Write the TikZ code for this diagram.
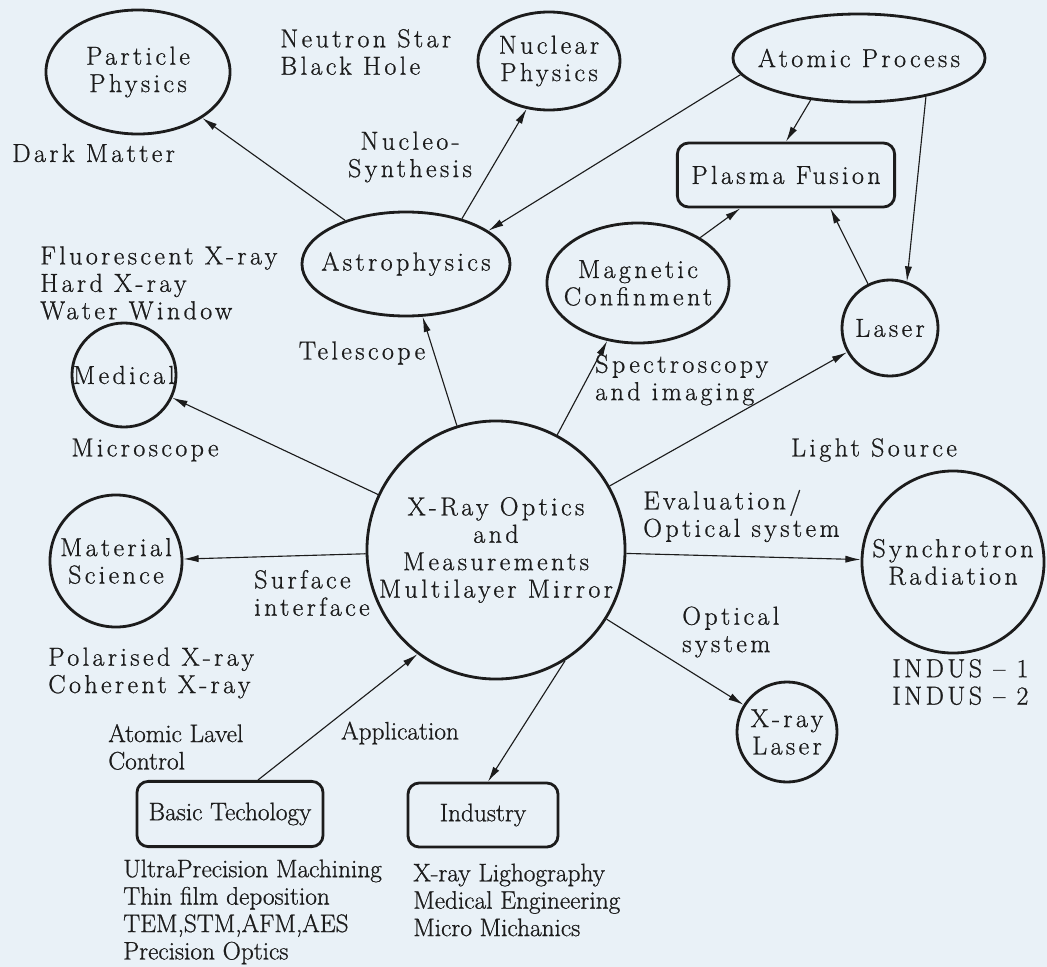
\documentclass[tikz,border=0pt]{standalone}
\usepackage{fontspec}
\setmainfont{Latin Modern Roman}[LetterSpace=13, FakeBold=0.8]
\newfontfamily\plainfont{Latin Modern Roman}[FakeBold=0.8]
\usetikzlibrary{shapes.geometric,arrows.meta}
\definecolor{paper}{HTML}{E9F1F7}
\definecolor{ink}{HTML}{1C1C1C}
\tikzset{
  oval/.style={draw=ink, ellipse, line width=2pt, inner sep=0pt},
  ring/.style={draw=ink, circle, line width=2pt, inner sep=0pt},
  slab/.style={draw=ink, rectangle, rounded corners=8pt, line width=2pt, inner sep=0pt},
  txt/.style={align=center, text=ink, inner sep=0pt},
  plain/.style={font=\plainfont\fontsize{18}{19.5}\selectfont},
  note/.style={align=left, text=ink, inner sep=0pt, anchor=west},
  plainnote/.style={note, plain},
  link/.style={draw=ink, line width=0.8pt, -{Latex[length=3.8mm,width=1.8mm]}},
}

\begin{document}
\begin{tikzpicture}[x=0.025cm, y=-0.025cm, font=\fontsize{18.5}{19.5}\selectfont]
    \fill[paper] (0,0) rectangle (1047,967);
    \useasboundingbox (0,0) rectangle (1047,967);

    % shapes
    \node[oval, minimum width=4.6cm, minimum height=3.1cm, label={[txt]center:Particle\\Physics}] (pp) at (138,72) {};
    \node[oval, minimum width=3.55cm, minimum height=2.45cm, label={[txt]center:Nuclear\\Physics}] (nuc) at (549,61) {};
    \node[oval, minimum width=6.3cm, minimum height=2.2cm, label={[txt]center:Atomic Process}] (atomic) at (859,58) {};
    \node[slab, minimum width=5.43cm, minimum height=1.6cm, label={[txt]center:Plasma Fusion}] (plasma) at (786,175) {};
    \node[oval, minimum width=4.55cm, minimum height=3cm, label={[txt]center:Magnetic\\Confinment}] (mag) at (638,283) {};
    \node[ring, minimum size=2.4cm, label={[txt]center:Laser}] (laser) at (890,328) {};
    \node[oval, minimum width=5.2cm, minimum height=2.6cm, label={[txt]center:Astrophysics}] (astro) at (406,264) {};
    \node[ring, minimum size=2.6cm, label={[txt]center:Medical}] (med) at (124,375) {};
    \node[ring, minimum size=3.3cm, label={[txt]center:Material\\Science}] (mat) at (116,561) {};
    \node[ring, minimum size=6.45cm, label={[txt]center:X-Ray Optics\\and\\Measurements\\Multilayer Mirror}] (xro) at (496,550) {};
    \node[ring, minimum size=4.55cm, label={[txt]center:Synchrotron\\Radiation}] (synch) at (953,562) {};
    \node[ring, minimum size=2.5cm, label={[txt]center:X-ray\\Laser}] (xlaser) at (787,732) {};
    \node[slab, minimum width=4.65cm, minimum height=1.63cm, label={[txt, plain]center:Basic Techology}] (basic) at (230,814) {};
    \node[slab, minimum width=3.75cm, minimum height=1.6cm, label={[txt, plain]center:Industry}] (industry) at (483,815) {};

    % free texts
    \node[note] (nstar) at (280,52) {Neutron Star\\Black Hole};
    \node[note] (dark) at (12,153) {Dark Matter};
    \node[txt] (nucleo) at (410,157) {Nucleo-\\Synthesis};
    \node[note] (fluo) at (40,283) {Fluorescent X-ray\\Hard X-ray\\Water Window};
    \node[txt] (tele) at (362,353) {Telescope};
    \node[txt] (micro) at (145,450) {Microscope};
    \node[note] (surf) at (254,593) {Surface\\interface};
    \node[note] (polar) at (48,673) {Polarised X-ray\\Coherent X-ray};
    \node[plainnote] (atomlev) at (108,747) {Atomic Lavel\\Control};
    \node[txt, plain] (appl) at (400,733) {Application};
    \node[plainnote] (basicnote) at (123,912) {UltraPrecision Machining\\Thin film deposition\\TEM,STM,AFM,AES\\Precision Optics};
    \node[plainnote] (indnote) at (413,900) {X-ray Lighography\\Medical Engineering\\Micro Michanics};
    \node[note] (spec) at (595,380) {Spectroscopy\\and imaging};
    \node[txt] (light) at (874,450) {Light Source};
    \node[note] (eval) at (643,516) {Evaluation/\\Optical system};
    \node[note] (optsys) at (682,632) {Optical\\system};
    \node[note] (indus) at (892,682) {INDUS – 1\\INDUS – 2};

    % connectors
    \draw[link] (astro) -- (pp);
    \draw[link] (astro.39) -- (nuc.-115);
    \draw[link] (atomic.188) -- (astro.22);
    \draw[link] (atomic.-139) -- (plasma.north);
    \draw[link] (atomic.-30) -- (laser.70);
    \draw[link] (mag) -- (plasma);
    \draw[link] (laser) -- (plasma.-37);
    \draw[link] (xro) -- (astro);
    \draw[link] (xro) -- (med);
    \draw[link] (xro) -- (mat);
    \draw[link] (xro) -- (mag);
    \draw[link] (xro) -- (laser);
    \draw[link] (xro) -- (synch);
    \draw[link] (xro) -- (xlaser);
    \draw[link] ([xshift=0.7cm]basic.north) -- (xro.-127);
    \draw[link] (xro.-58) -- ([xshift=0.125cm]industry.north);
\end{tikzpicture}
\end{document}
